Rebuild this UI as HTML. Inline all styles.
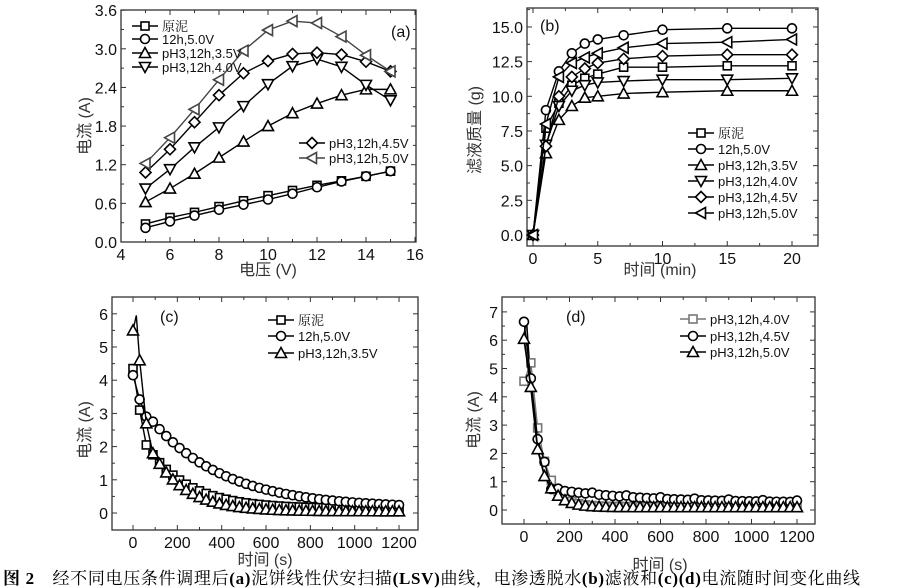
<!DOCTYPE html>
<html><head><meta charset="utf-8"><style>
body{margin:0;background:#fff;width:897px;height:588px;overflow:hidden}
svg{display:block}
.t{font-family:"Liberation Sans",sans-serif;font-size:16px;fill:#111}
.c{font-family:"Liberation Sans","Noto Sans CJK SC",sans-serif;font-size:16px;fill:#333}
.l{font-family:"Liberation Sans","Noto Serif CJK SC",sans-serif;font-size:13px;fill:#111}
</style></head><body>
<svg id="s" width="897" height="588" xmlns="http://www.w3.org/2000/svg"></svg>
<script>
const S=document.getElementById('s');let h='';
function mk(type,x,y,col){col=col||'#000';const r=4.5;let st=`fill="#fff" stroke="${col}" stroke-width="1.6"`;
 if(type=='s')return `<rect x="${x-r+0.5}" y="${y-r+0.5}" width="${2*r-1}" height="${2*r-1}" ${st}/>`;
 if(type=='o')return `<circle cx="${x}" cy="${y}" r="${r}" ${st}/>`;
 if(type=='^')return `<polygon points="${x},${y-r-1} ${x+r+1},${y+r} ${x-r-1},${y+r}" ${st}/>`;
 if(type=='v')return `<polygon points="${x},${y+r+1} ${x+r+1},${y-r} ${x-r-1},${y-r}" ${st}/>`;
 if(type=='d')return `<polygon points="${x},${y-r-1} ${x+r+1},${y} ${x},${y+r+1} ${x-r-1},${y}" ${st}/>`;
 if(type=='<')return `<polygon points="${x-r-1},${y} ${x+r},${y-r-1} ${x+r},${y+r+1}" ${st}/>`;}
function axes(L,T,R,B,fx,fy,xt,yt,xmin,ymin,xfmt,yfmt){
 h+=`<rect x="${L}" y="${T}" width="${R-L}" height="${B-T}" fill="none" stroke="#333" stroke-width="1.3"/>`;
 xt.major.forEach(v=>{const x=fx(v);h+=`<line x1="${x}" y1="${B}" x2="${x}" y2="${B-5}" stroke="#333"/><line x1="${x}" y1="${T}" x2="${x}" y2="${T+5}" stroke="#333"/><text class="t" x="${x}" y="${B+18}" text-anchor="middle">${xfmt(v)}</text>`;});
 xt.minor.forEach(v=>{const x=fx(v);h+=`<line x1="${x}" y1="${B}" x2="${x}" y2="${B-3}" stroke="#333"/><line x1="${x}" y1="${T}" x2="${x}" y2="${T+3}" stroke="#333"/>`;});
 yt.major.forEach(v=>{const y=fy(v);h+=`<line x1="${L}" y1="${y}" x2="${L+5}" y2="${y}" stroke="#333"/><line x1="${R}" y1="${y}" x2="${R-5}" y2="${y}" stroke="#333"/><text class="t" x="${L-4}" y="${y+6}" text-anchor="end">${yfmt(v)}</text>`;});
 yt.minor.forEach(v=>{const y=fy(v);h+=`<line x1="${L}" y1="${y}" x2="${L+3}" y2="${y}" stroke="#333"/><line x1="${R}" y1="${y}" x2="${R-3}" y2="${y}" stroke="#333"/>`;});
}
function series(xs,ys,fx,fy,m,col,lw){col=col||'#000';h+=`<polyline fill="none" stroke="${col}" stroke-width="${lw||1.4}" points="${xs.map((x,i)=>fx(x)+','+fy(ys[i])).join(' ')}"/>`;xs.forEach((x,i)=>h+=mk(m,fx(x),fy(ys[i]),col));}
function leg(x,y,m,txt,col){col=col||'#000';h+=`<line x1="${x}" y1="${y}" x2="${x+26}" y2="${y}" stroke="${col}" stroke-width="1.4"/>`+mk(m,x+13,y,col)+`<text class="l" x="${x+30}" y="${y+5}">${txt}</text>`;}
const rng=(a,b,s)=>{let r=[];for(let v=a;v<=b+1e-9;v+=s)r.push(+v.toFixed(4));return r};
// (a)
{const fx=v=>121+(v-4)*24.5,fy=v=>242-v*64.4;
axes(121,10,416,242,fx,fy,{major:rng(4,16,2),minor:rng(5,15,2)},{major:rng(0,3.6,0.6),minor:rng(0.3,3.3,0.6)},0,0,v=>v,v=>v.toFixed(1));
const X=rng(5,15,1);
series(X,[.28,.38,.46,.55,.64,.72,.80,.88,.95,1.02,1.10],fx,fy,'s');
series(X,[.22,.32,.41,.50,.58,.66,.75,.85,.94,1.02,1.10],fx,fy,'o');
series(X,[.62,.83,1.06,1.31,1.56,1.80,2.00,2.15,2.28,2.37,2.37],fx,fy,'^');
series(X,[.83,1.13,1.47,1.78,2.11,2.45,2.73,2.84,2.72,2.44,2.20],fx,fy,'v');
series(X,[1.08,1.44,1.86,2.28,2.62,2.81,2.92,2.94,2.91,2.80,2.65],fx,fy,'d');
series(X,[1.22,1.62,2.06,2.52,2.97,3.29,3.43,3.40,3.19,2.90,2.65],fx,fy,'<','#444');
leg(132,26,'s','原泥');leg(132,39,'o','12h,5.0V');leg(132,53,'^','pH3,12h,3.5V');leg(132,67,'v','pH3,12h,4.0V');
leg(299,143,'d','pH3,12h,4.5V');leg(299,158,'<','pH3,12h,5.0V','#444');
h+=`<text class="t" x="391" y="37">(a)</text>`;
h+=`<text class="c" x="268" y="275" text-anchor="middle">电压 (V)</text><text class="c" transform="translate(90,126) rotate(-90)" text-anchor="middle">电流 (A)</text>`;}
// (b)
{const fx=v=>533+v*12.95,fy=v=>235-v*13.87;
axes(527,8,818,246,fx,fy,{major:rng(0,20,5),minor:rng(2.5,17.5,5)},{major:rng(0,15,2.5),minor:rng(1.25,16.25,2.5)},0,0,v=>v,v=>v.toFixed(1));
const X=[0,1,2,3,4,5,7,10,15,20];
series(X,[0,7.7,9.5,10.8,11.3,11.6,12.1,12.1,12.2,12.2],fx,fy,'s');
series(X,[0,9.0,11.8,13.1,13.8,14.1,14.4,14.8,14.9,14.9],fx,fy,'o');
series(X,[0,5.9,8.3,9.3,9.9,10.0,10.2,10.3,10.4,10.4],fx,fy,'^');
series(X,[0,6.5,9.3,10.4,10.8,11.0,11.1,11.2,11.2,11.3],fx,fy,'v');
series(X,[0,6.4,10.0,11.4,12.0,12.4,12.7,12.9,13.0,13.0],fx,fy,'d');
series(X,[0,8.0,11.4,12.4,12.8,13.1,13.5,13.8,13.9,14.1],fx,fy,'<');
[['s','原泥'],['o','12h,5.0V'],['^','pH3,12h,3.5V'],['v','pH3,12h,4.0V'],['d','pH3,12h,4.5V'],['<','pH3,12h,5.0V']].forEach((a,i)=>leg(688,133+i*16,a[0],a[1]));
h+=`<text class="t" x="540" y="31">(b)</text>`;
h+=`<text class="c" x="660" y="275" text-anchor="middle">时间 (min)</text><text class="c" transform="translate(480,130) rotate(-90)" text-anchor="middle">滤液质量 (g)</text>`;}
// (c)
{const fx=v=>133+v*0.2217,fy=v=>513-v*33.2;
axes(112,297,418,530,fx,fy,{major:rng(0,1200,200),minor:rng(100,1300,200).filter(v=>v<1280)},{major:rng(0,6,1),minor:rng(0.5,6.5,1).filter(v=>v<6.4)},0,0,v=>v,v=>v);
const T=rng(0,1200,30);
const a=T.map((t,i)=>i==0?4.35:i==1?3.1:i==2?2.05:0.13+1.9*Math.exp(-(t-60)/190));
const b=T.map((t,i)=>i==0?4.15:i==1?3.42:i==2?2.9:0.15+2.6*Math.exp(-(t-90)/330));
const c=T.map((t,i)=>i==0?5.5:i==1?4.6:i==2?2.7:0.05+1.75*Math.exp(-(t-90)/150));
h+=`<polyline fill="none" stroke="#000" stroke-width="1.4" points="${fx(0)},${fy(5.5)} ${fx(15)},${fy(5.95)} ${fx(30)},${fy(4.6)}"/>`;
series(T,a,fx,fy,'s');series(T,b,fx,fy,'o');series(T.slice(1),c.slice(1),fx,fy,'^');h+=mk('^',fx(0),fy(5.5));
leg(268,320,'s','原泥');leg(268,336,'o','12h,5.0V');leg(268,353,'^','pH3,12h,3.5V');
h+=`<text class="t" x="160" y="322">(c)</text>`;
h+=`<text class="c" x="265" y="565" text-anchor="middle">时间 (s)</text><text class="c" transform="translate(90,430) rotate(-90)" text-anchor="middle">电流 (A)</text>`;}
// (d)
{const fx=v=>524+v*0.2275,fy=v=>510-v*28.3;
axes(502,297,815,524,fx,fy,{major:rng(0,1200,200),minor:rng(100,1300,200).filter(v=>v<1280)},{major:rng(0,7,1),minor:rng(0.5,7.5,1).filter(v=>v<7.4)},0,0,v=>v,v=>v);
const T=rng(0,1200,30);
const a=T.map((t,i)=>i==0?4.55:i==1?5.2:i==2?2.9:0.12+1.6*Math.exp(-(t-90)/55));
const b=T.map((t,i)=>i==0?6.65:i==1?4.65:i==2?2.5:i==3?1.7:0.25+0.4*Math.exp(-(t-200)/400)+(i%5==0?0.05:0));
const c=T.map((t,i)=>i==0?6.05:i==1?4.35:i==2?2.15:0.1+1.1*Math.exp(-(t-90)/60));
h+=`<polyline fill="none" stroke="#000" stroke-width="1.6" points="${fx(0)},${fy(6.1)} ${fx(10)},${fy(6.8)} ${fx(30)},${fy(4.4)}"/>`;
series(T,a,fx,fy,'s','#777');series(T,b,fx,fy,'o');series(T,c,fx,fy,'^','#000',1.8);
leg(680,319,'s','pH3,12h,4.0V','#777');leg(680,336,'o','pH3,12h,4.5V');leg(680,352,'^','pH3,12h,5.0V');
h+=`<text class="t" x="566" y="322">(d)</text>`;
h+=`<text class="c" x="660" y="570" text-anchor="middle">时间 (s)</text><text class="c" transform="translate(479,420) rotate(-90)" text-anchor="middle">电流 (A)</text>`;}
h+=`<text x="3" y="584" textLength="857" lengthAdjust="spacing" style="font-family:'Liberation Serif','Noto Serif CJK SC',serif;font-size:17px;fill:#000"><tspan font-weight="bold">图 2</tspan>　经不同电压条件调理后<tspan font-weight="bold">(a)</tspan>泥饼线性伏安扫描<tspan font-weight="bold">(LSV)</tspan>曲线，电渗透脱水<tspan font-weight="bold">(b)</tspan>滤液和<tspan font-weight="bold">(c)(d)</tspan>电流随时间变化曲线</text>`;
S.innerHTML=h;
</script>
</body></html>
